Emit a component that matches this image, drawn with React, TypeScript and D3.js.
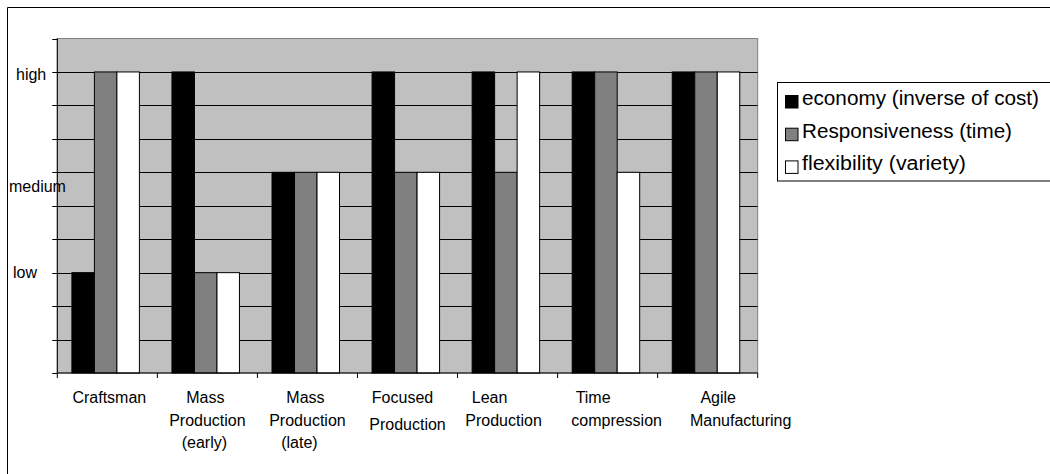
import React from "react";
import * as d3 from "d3";

const categories = [
  "Craftsman",
  "Mass Production (early)",
  "Mass Production (late)",
  "Focused Production",
  "Lean Production",
  "Time compression",
  "Agile Manufacturing",
];
// category label lines (wrapped as in the reference)
const categoryLines = [
  ["Craftsman"],
  ["Mass", "Production", "(early)"],
  ["Mass", "Production", "(late)"],
  ["Focused", "Production"],
  ["Lean", "Production"],
  ["Time", "compression"],
  ["Agile", "Manufacturing"],
];
const seriesNames = [
  "economy (inverse of cost)",
  "Responsiveness (time)",
  "flexibility (variety)",
];
// values on a 0–10 scale: low = 3, medium = 6, high = 9
const economy = [3, 9, 6, 9, 9, 9, 9];
const responsiveness = [9, 3, 6, 6, 6, 9, 9];
const flexibility = [9, 3, 6, 6, 9, 6, 9];
const yTickLabels = [
  { value: 9, label: "high" },
  { value: 6, label: "medium" },
  { value: 3, label: "low" },
];

const seriesValues = [economy, responsiveness, flexibility];
const seriesColors = ["#000000", "#808080", "#ffffff"];

// layout-only tweaks for label placement (px)
const lineDx = [
  [2],
  [-2, 0, -3],
  [-2, 0, -8],
  [-5, 0],
  [-18, -4],
  [-14.5, 9],
  [10.5, 33],
];
const lineBaselines = [
  [402.7],
  [402.7, 425.7, 447.5],
  [402.7, 425.7, 447.5],
  [402.7, 430],
  [402.7, 425.7],
  [402.7, 425.7],
  [402.7, 425.7],
];
const legendTextWidths = [237, 210, 164];
const yLabelLayout: Record<string, { x: number; y: number }> = {
  high: { x: 16, y: 80 },
  medium: { x: 9, y: 191.5 },
  low: { x: 13, y: 277.5 },
};

const FONT = "'Liberation Sans', Arial, sans-serif";

export default function App() {
  const W = 1050;
  const H = 474;
  const left = 57.3;
  const right = 757.7;
  const top = 38.5;
  const bottom = 373;

  const x = d3.scaleBand<string>().domain(categories).range([left, right]).paddingInner(0).paddingOuter(0);
  const y = d3.scaleLinear().domain([0, 10]).range([bottom, top]);
  const barW = 22.5;
  const groupOffset = 14.6;
  const gridValues = d3.range(1, 10);
  const tickValues = d3.range(0, 11);

  return (
    <svg
      width={W}
      height={H}
      style={{ position: "absolute", left: 0, top: 0, background: "#fff" }}
      fontFamily={FONT}
    >
      {/* outer chart border (left & top) */}
      <line x1={7.5} y1={7.5} x2={W} y2={7.5} stroke="#000" strokeWidth={1} />
      <line x1={7.5} y1={7.5} x2={7.5} y2={H} stroke="#000" strokeWidth={1} />

      {/* plot background */}
      <rect x={left} y={top} width={right - left} height={bottom - top} fill="#c0c0c0" stroke="#808080" strokeWidth={1} />

      {/* gridlines */}
      {gridValues.map((v) => (
        <line key={v} x1={left} x2={right} y1={Math.round(y(v)) + 0.5} y2={Math.round(y(v)) + 0.5} stroke="#000" strokeWidth={1} />
      ))}

      {/* bars */}
      {categories.map((c, ci) =>
        seriesValues.map((vals, si) => {
          const x0 = (x(c) as number) + groupOffset + si * barW;
          const yv = y(vals[ci]);
          return (
            <rect
              key={c + si}
              x={x0}
              y={yv}
              width={barW}
              height={bottom - yv}
              fill={seriesColors[si]}
              stroke="#000"
              strokeWidth={1}
            />
          );
        })
      )}

      {/* y axis */}
      <line x1={left} x2={left} y1={top} y2={bottom} stroke="#000" strokeWidth={1} />
      {tickValues.map((v) => (
        <line key={v} x1={left - 5} x2={left} y1={Math.round(y(v)) + 0.5} y2={Math.round(y(v)) + 0.5} stroke="#000" strokeWidth={1} />
      ))}
      {yTickLabels.map((t) => (
        <text key={t.label} x={yLabelLayout[t.label].x} y={yLabelLayout[t.label].y} fontSize={16} fill="#000">
          {t.label}
        </text>
      ))}

      {/* x axis */}
      <line x1={left} x2={right} y1={bottom} y2={bottom} stroke="#000" strokeWidth={1} />
      {categories.map((c) => (
        <line key={c} x1={(x(c) as number)} x2={(x(c) as number)} y1={bottom} y2={bottom + 5} stroke="#000" strokeWidth={1} />
      ))}
      <line x1={right} x2={right} y1={bottom} y2={bottom + 5} stroke="#000" strokeWidth={1} />
      {categories.map((c, ci) => {
        const cx = (x(c) as number) + x.bandwidth() / 2;
        return categoryLines[ci].map((ln, li) => (
          <text
            key={c + li}
            x={cx + lineDx[ci][li]}
            y={lineBaselines[ci][li]}
            fontSize={16}
            textAnchor="middle"
            fill="#000"
          >
            {ln}
          </text>
        ));
      })}

      {/* legend */}
      <rect x={777.5} y={82.5} width={300} height={98.5} fill="#fff" stroke="#000" strokeWidth={1} />
      {seriesNames.map((n, i) => (
        <g key={n}>
          <rect x={785.5} y={95.5 + i * 32.7} width={12.5} height={12.5} fill={seriesColors[i]} stroke="#000" strokeWidth={1} />
          <text
            x={802}
            y={105 + i * 32.7}
            fontSize={19.5}
            fill="#000"
            textLength={legendTextWidths[i]}
            lengthAdjust="spacingAndGlyphs"
          >
            {n}
          </text>
        </g>
      ))}
    </svg>
  );
}
